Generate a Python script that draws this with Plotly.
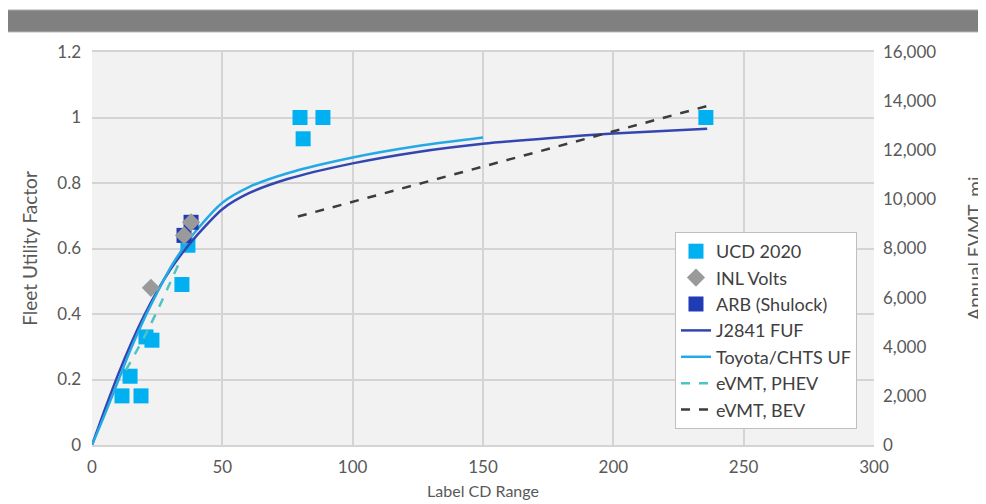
import plotly.graph_objects as go

# ---------------- data ----------------
ucd_x = [11.5, 14.6, 18.8, 20.7, 23.0, 34.5, 36.8, 79.8, 81.0, 88.6, 235.5]
ucd_y = [0.15, 0.21, 0.15, 0.33, 0.32, 0.49, 0.61, 1.0, 0.935, 1.0, 1.0]

inl_x = [22.6, 35.3, 38.0]
inl_y = [0.48, 0.64, 0.68]

arb_x = [35.3, 38.0]
arb_y = [0.64, 0.68]

j2841_x = [0, 5, 10, 15, 20, 25, 30, 35, 40, 50, 60, 75, 100, 125, 150, 175, 200, 236]
j2841_y = [0, 0.11, 0.215, 0.31, 0.395, 0.47, 0.535, 0.59, 0.638, 0.72, 0.768, 0.812,
           0.86, 0.895, 0.92, 0.937, 0.951, 0.966]

toyota_x = [0, 5, 10, 15, 20, 25, 30, 35, 40, 50, 60, 75, 100, 125, 150]
toyota_y = [0, 0.095, 0.195, 0.295, 0.385, 0.465, 0.54, 0.602, 0.655, 0.74, 0.787, 0.83,
            0.878, 0.913, 0.939]

phev_x = [13, 22, 33]
phev_evmt = [3050, 4800, 7320]

bev_x = [79, 237]
bev_evmt = [9300, 13830]

x_ticks = [0, 50, 100, 150, 200, 250, 300]
y_ticks = [0, 0.2, 0.4, 0.6, 0.8, 1.0, 1.2]
y2_ticks = [0, 2000, 4000, 6000, 8000, 10000, 12000, 14000, 16000]

# ---------------- styles ----------------
FONT = "Lato"
TXT = "#595959"
C_UCD = "#00B0F0"
C_INL = "#9A9A9A"
C_ARB = "#1F3CB4"
C_J2841 = "#3346B0"
C_TOY = "#25A9E6"
C_PHEV = "#4DC4C4"
C_BEV = "#3C3C3C"

fig = go.Figure()

fig.add_trace(go.Scatter(x=ucd_x, y=ucd_y, mode="markers", name="UCD 2020",
                         marker=dict(symbol="square", size=15, color=C_UCD),
                         legendrank=1))
fig.add_trace(go.Scatter(x=j2841_x, y=j2841_y, mode="lines", name="J2841 FUF",
                         line=dict(color=C_J2841, width=2.5, shape="spline", smoothing=0.8),
                         legendrank=4))
fig.add_trace(go.Scatter(x=toyota_x, y=toyota_y, mode="lines", name="Toyota/CHTS UF",
                         line=dict(color=C_TOY, width=2.5, shape="spline", smoothing=0.8),
                         legendrank=5))
fig.add_trace(go.Scatter(x=arb_x, y=arb_y, mode="markers", name="ARB (Shulock)",
                         marker=dict(symbol="square", size=15, color=C_ARB),
                         legendrank=3))
fig.add_trace(go.Scatter(x=inl_x, y=inl_y, mode="markers", name="INL Volts",
                         marker=dict(symbol="diamond", size=14, color=C_INL),
                         legendrank=2))
fig.add_trace(go.Scatter(x=phev_x, y=phev_evmt, mode="lines", name="eVMT, PHEV",
                         yaxis="y2",
                         line=dict(color=C_PHEV, width=2.5, dash="dash", shape="spline"),
                         legendrank=6))
fig.add_trace(go.Scatter(x=bev_x, y=bev_evmt, mode="lines", name="eVMT, BEV",
                         yaxis="y2",
                         line=dict(color=C_BEV, width=2.5, dash="dash"),
                         legendrank=7))

# The page body has an 8 px margin, so the figure is sized/offset to compensate.
fig.update_layout(
    width=978, height=496,
    margin=dict(l=84, r=112, t=44, b=59, autoexpand=False),
    paper_bgcolor="white",
    plot_bgcolor="#F2F2F2",
    font=dict(family=FONT, size=17, color=TXT),
    xaxis=dict(range=[0, 300], tickvals=x_ticks, showgrid=True, gridcolor="#D4D4D4",
               gridwidth=1.5, zeroline=False, showline=True, linecolor="#D4D4D4",
               linewidth=1.5, mirror=True, ticks="", ticklabelstandoff=6, automargin=False,
               title=dict(text="Label CD Range", font=dict(size=16), standoff=10)),
    yaxis=dict(range=[0, 1.2], tickvals=y_ticks, showgrid=True, gridcolor="#D4D4D4",
               gridwidth=1.5, zeroline=False, ticks="", ticklabelstandoff=10, automargin=False,
               title=dict(text="Fleet Utility Factor", font=dict(size=19), standoff=14)),
    yaxis2=dict(range=[0, 16000], tickvals=y2_ticks, tickformat=",", overlaying="y",
                side="right", showgrid=False, zeroline=False, ticks="",
                ticklabelstandoff=8, automargin=False,
                title=dict(text="Annual EVMT, mi", font=dict(size=19), standoff=40)),
    legend=dict(x=0.7455, y=0.542, xanchor="left", yanchor="top",
                bgcolor="white", bordercolor="#BFBFBF", borderwidth=1,
                font=dict(family=FONT, size=18, color="#404040"),
                itemwidth=30),
    showlegend=True,
    shapes=[dict(type="rect", xref="paper", yref="paper", x0=-0.114, x1=1.15,
                 y0=1.051, y1=1.107, fillcolor="#808080",
                 line=dict(color="#B5B5B5", width=1), layer="above")],
)

fig.write_html("out.html")
